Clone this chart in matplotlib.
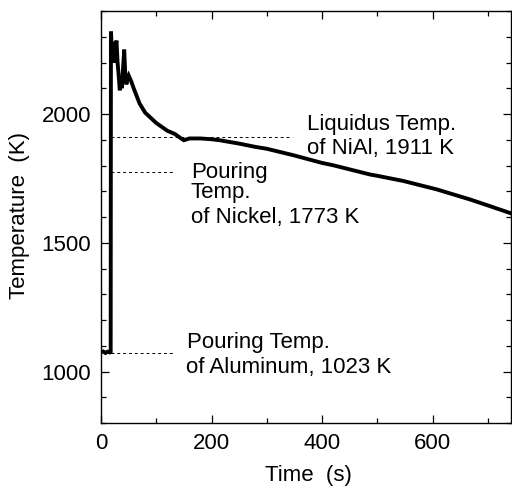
import matplotlib
matplotlib.use("Agg")
import matplotlib.pyplot as plt
from matplotlib.ticker import MultipleLocator

plt.rcParams['font.family'] = ['Liberation Sans', 'DejaVu Sans']

time_s = [0, 4, 8, 12, 16, 17.5, 18, 20, 22, 24, 26, 28, 30, 32, 34, 36, 38, 40, 42,
          44, 46, 48, 50, 55, 60, 70, 80, 90, 100, 110, 120, 134, 145, 150, 160,
          180, 200, 215, 250, 280, 300, 348, 400, 420, 487, 500, 547, 608, 668,
          700, 745]
temp_K = [1075, 1078, 1072, 1077, 1074, 1075, 2320, 2230, 2280, 2200, 2260, 2285,
          2200, 2150, 2092, 2140, 2100, 2180, 2250, 2150, 2115, 2140, 2150, 2125,
          2095, 2040, 2005, 1985, 1965, 1950, 1935, 1922, 1905, 1898, 1905, 1905,
          1902, 1898, 1885, 1872, 1865, 1840, 1810, 1801, 1765, 1760, 1740, 1707,
          1668, 1645, 1612]

# Reference levels (dashed lines): level drawn, start and end time
ref_levels = [1911, 1773, 1073]
ref_start = [18, 18, 18]
ref_end = [345, 134, 134]

# Annotation lines
liquidus_lines = ["Liquidus Temp.", "of NiAl, 1911 K"]
nickel_lines = ["Pouring", "Temp.", "of Nickel, 1773 K"]
aluminum_lines = ["Pouring Temp.", "of Aluminum, 1023 K"]

fig = plt.figure(figsize=(5.12, 4.88), dpi=100)
ax = fig.add_axes([101/512, 1 - 423/488, 410/512, 412/488])

ax.plot(time_s, temp_K, color='black', linewidth=2.8, solid_joinstyle='miter')

for lvl, s, e in zip(ref_levels, ref_start, ref_end):
    ax.plot([s, e], [lvl, lvl], color='black', linewidth=0.7, dashes=(3, 3))

fs = 16
for txt, yb in zip(liquidus_lines, [1939.5, 1843.8]):
    ax.text(372.5, yb, txt, fontsize=fs, ha='left', va='baseline')
for txt, yb in zip(nickel_lines, [1752, 1672, 1575]):
    ax.text(162.4, yb, txt, fontsize=fs, ha='left', va='baseline')
for txt, xb, yb in zip(aluminum_lines, [156.3, 153.4], [1090.7, 996.1]):
    ax.text(xb, yb, txt, fontsize=fs, ha='left', va='baseline')

ax.set_xlim(0, 742)
ax.set_ylim(800, 2400)
ax.xaxis.set_major_locator(MultipleLocator(200))
ax.xaxis.set_minor_locator(MultipleLocator(100))
ax.yaxis.set_major_locator(MultipleLocator(500))
ax.yaxis.set_minor_locator(MultipleLocator(100))
ax.tick_params(which='both', direction='in', top=True, right=True, width=0.9,
               labelsize=fs, colors='black')
ax.tick_params(which='major', length=6)
ax.tick_params(which='minor', length=3.5)
ax.tick_params(axis='x', pad=7)
ax.tick_params(axis='y', pad=7)
for sp in ax.spines.values():
    sp.set_linewidth(1.0)

fig.text(308/512, 1 - 476/488, "Time  (s)", fontsize=fs, ha='center', va='center')
fig.text(20/512, 1 - 215/488, "Temperature  (K)", fontsize=fs, ha='center',
         va='center', rotation=90)

fig.savefig("out.png", dpi=100, facecolor='white')
